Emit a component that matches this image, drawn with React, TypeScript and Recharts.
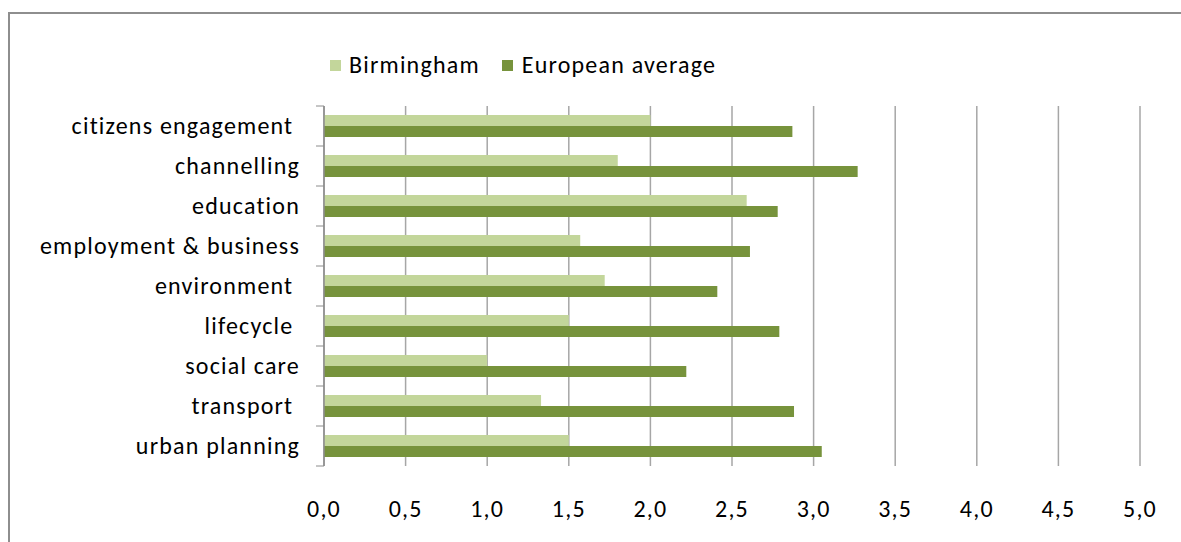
import { BarChart, Bar, XAxis, YAxis, CartesianGrid } from "recharts";

const categories = [
  "citizens engagement ",
  "channelling",
  "education",
  "employment & business",
  "environment ",
  "lifecycle ",
  "social care",
  "transport ",
  "urban planning",
];
const birmingham = [2.0, 1.8, 2.59, 1.57, 1.72, 1.5, 1.0, 1.33, 1.5];
const europeanAverage = [2.87, 3.27, 2.78, 2.61, 2.41, 2.79, 2.22, 2.88, 3.05];
const xTicks = [0, 0.5, 1, 1.5, 2, 2.5, 3, 3.5, 4, 4.5, 5];

const data = categories.map((name, i) => ({
  name,
  birmingham: birmingham[i],
  europe: europeanAverage[i],
}));

const FONT = "Carlito, Lato, 'Open Sans', sans-serif";
const FS = 24;
const LS = 1.2;
const LIGHT = "#c3d69b";
const DARK = "#77933c";
const AXIS = "#8c8c8c";

const CategoryTick = (props: any) => {
  const { x, y, payload, index } = props;
  const ax = x + 24;
  const half = 20;
  return (
    <g>
      <line x1={ax - 8} x2={ax} y1={y - half} y2={y - half} stroke={AXIS} />
      {index === categories.length - 1 && (
        <line x1={ax - 8} x2={ax} y1={y + half} y2={y + half} stroke={AXIS} />
      )}
      <text
        x={x}
        y={y}
        dy="0.35em"
        textAnchor="end"
        fill="#000"
        fontSize={FS}
        fontFamily={FONT}
        letterSpacing={LS}
        style={{ whiteSpace: "pre" }}
      >
        {payload.value}
      </text>
    </g>
  );
};

const ChartLegend = () => (
  <div
    style={{
      position: "absolute",
      left: 320,
      top: 36,
      display: "flex",
      alignItems: "center",
      fontFamily: FONT,
      fontSize: FS,
      letterSpacing: LS,
      color: "#000",
      lineHeight: "30px",
    }}
  >
    <span style={{ width: 11, height: 11, background: LIGHT, marginRight: 8, display: "inline-block" }} />
    <span style={{ marginRight: 22 }}>Birmingham</span>
    <span style={{ width: 11, height: 11, background: DARK, marginRight: 9, display: "inline-block" }} />
    <span>European average</span>
  </div>
);

export default function App() {
  return (
    <div
      style={{
        position: "absolute",
        left: 8,
        top: 12,
        width: 1173,
        height: 530,
        borderTop: "2px solid #8e8e8e",
        borderLeft: "2px solid #8e8e8e",
        boxSizing: "border-box",
        background: "#fff",
      }}
    >
      <ChartLegend />
      <BarChart
        width={1171}
        height={528}
        data={data}
        layout="vertical"
        margin={{ top: 92, right: 41, bottom: 46, left: 0 }}
        barGap={0}
        barSize={11}
      >
        <CartesianGrid horizontal={false} stroke="#a6a6a6" strokeWidth={1.5} />
        <XAxis
          type="number"
          domain={[0, 5]}
          ticks={xTicks}
          interval={0}
          axisLine={false}
          tickLine={false}
          tickSize={0}
          tickMargin={34}
          height={30}
          tickFormatter={(v: number) => v.toFixed(1).replace(".", ",")}
          tick={{ fill: "#000", fontSize: FS, fontFamily: FONT, letterSpacing: LS }}
        />
        <YAxis
          type="category"
          dataKey="name"
          width={314}
          axisLine={{ stroke: AXIS, strokeWidth: 1.5 }}
          tickLine={false}
          tickSize={8}
          tickMargin={16}
          interval={0}
          tick={<CategoryTick />}
        />
        <Bar dataKey="birmingham" name="Birmingham" fill={LIGHT} isAnimationActive={false} />
        <Bar dataKey="europe" name="European average" fill={DARK} isAnimationActive={false} />
      </BarChart>
    </div>
  );
}
